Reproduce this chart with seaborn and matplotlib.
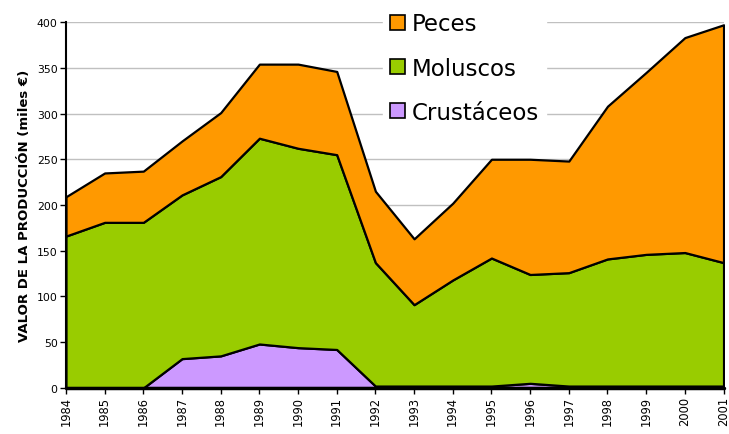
import numpy as np
import pandas as pd
import matplotlib
matplotlib.use('Agg')
import matplotlib.pyplot as plt
import seaborn as sns
from matplotlib.patches import Patch

# data (miles de euros)
years = list(range(1984, 2002))
crustaceos = [0, 0, 0, 32, 35, 48, 44, 42, 2, 2, 2, 2, 5, 2, 2, 2, 2, 2]
moluscos_top = [166, 181, 181, 211, 231, 273, 262, 255, 137, 91, 118, 142, 124, 126, 141, 146, 148, 137]
peces_top = [209, 235, 237, 270, 301, 354, 354, 346, 215, 163, 202, 250, 250, 248, 308, 345, 383, 397]

df = pd.DataFrame({'year': years, 'Crustáceos': crustaceos})
df['Moluscos'] = np.array(moluscos_top) - np.array(crustaceos)
df['Peces'] = np.array(peces_top) - np.array(moluscos_top)

sns.set_style("white")
plt.rcParams['font.family'] = ['DejaVu Sans']
plt.rcParams['text.color'] = 'black'
plt.rcParams['axes.labelcolor'] = 'black'
plt.rcParams['xtick.color'] = 'black'
plt.rcParams['ytick.color'] = 'black'

colors = {'Crustáceos': '#cc99ff', 'Moluscos': '#99cc00', 'Peces': '#ff9900'}

fig = plt.figure(figsize=(7.29, 4.35), dpi=100)
ax = fig.add_axes([0.0905, 0.106, 0.902, 0.841])

series = ['Crustáceos', 'Moluscos', 'Peces']
ax.stackplot(df['year'], [df[s] for s in series],
             colors=[colors[s] for s in series],
             edgecolor='black', linewidth=1.6, zorder=2)

ax.set_xlim(1984, 2001)
ax.set_ylim(0, 400)
ax.set_yticks(range(0, 401, 50))
ax.set_xticks(years)
ax.set_xticklabels([str(y) for y in years], rotation=90, fontsize=8.3)
ax.tick_params(axis='y', labelsize=7.8)
ax.tick_params(axis='both', direction='out', length=4, width=1, color='black',
               bottom=True, left=True, pad=2)
ax.yaxis.grid(True, color='#c0c0c0', linewidth=1, zorder=0)
ax.set_axisbelow(True)

sns.despine(ax=ax)
for side in ['left', 'bottom']:
    ax.spines[side].set_color('black')
    ax.spines[side].set_linewidth(1.5)
ax.axhline(0, color='black', linewidth=2.5, zorder=3, clip_on=False)

ax.set_ylabel('VALOR DE LA PRODUCCIÓN (miles €)', fontsize=9.5, fontweight='bold', labelpad=4)

handles = [Patch(facecolor=colors[s], edgecolor='black', linewidth=1.2, label=s)
           for s in ['Peces', 'Moluscos', 'Crustáceos']]
leg = ax.legend(handles=handles, loc='upper left', bbox_to_anchor=(0.465, 1.077),
                fontsize=16.5, frameon=True, fancybox=False, edgecolor='white',
                framealpha=1, handlelength=0.65, handleheight=0.65,
                handletextpad=0.3, labelspacing=0.93, borderpad=0.3,
                labelcolor='black')
leg.set_zorder(5)

fig.savefig('out.png', dpi=100)
